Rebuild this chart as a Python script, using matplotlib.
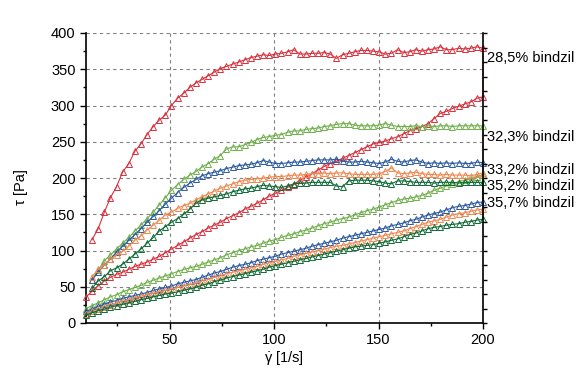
import matplotlib
matplotlib.use("Agg")
import matplotlib.pyplot as plt
from matplotlib.ticker import MultipleLocator, NullFormatter

plt.rcParams['font.family'] = ['Liberation Sans', 'DejaVu Sans']
plt.rcParams['mathtext.fontset'] = 'custom'
plt.rcParams['mathtext.rm'] = 'Liberation Sans'
plt.rcParams['mathtext.it'] = 'Liberation Sans'

# shear rate grid [1/s]
shear_rate = [10.0, 12.9, 15.8, 18.8, 21.7, 24.6, 27.5, 30.5, 33.4, 36.3,
              39.2, 42.2, 45.1, 48.0, 50.9, 53.8, 56.8, 59.7, 62.6, 65.5,
              68.5, 71.4, 74.3, 77.2, 80.2, 83.1, 86.0, 88.9, 91.8, 94.8,
              97.7, 100.6, 103.5, 106.5, 109.4, 112.3, 115.2, 118.2, 121.1, 124.0,
              126.9, 129.8, 132.8, 135.7, 138.6, 141.5, 144.5, 147.4, 150.3, 153.2,
              156.2, 159.1, 162.0, 164.9, 167.8, 170.8, 173.7, 176.6, 179.5, 182.5,
              185.4, 188.3, 191.2, 194.2, 197.1, 200.0]

labels = ["28,5% bindzil", "32,3% bindzil", "33,2% bindzil", "35,2% bindzil", "35,7% bindzil"]
label_y = [365, 257, 211, 189, 165]
colors = ["#d9303c", "#70b04c", "#2c5aa0", "#f0874f", "#0f6a36"]

# ramp-up branch (values at every shear_rate, 10 -> 200)
red_up = [36, 44, 51, 58, 63, 67, 70, 74, 78, 81, 84, 88, 92, 97, 102, 107, 112, 117, 122, 126,
          131, 135, 139, 144, 148, 152, 157, 161, 165, 170, 175, 179, 183, 187, 191, 197, 201, 206, 211, 216,
          220, 223, 227, 231, 235, 239, 243, 247, 249, 251, 254, 257, 261, 265, 268, 271, 275, 282, 289, 292,
          296, 299, 302, 305, 310, 312]
green_up = [20, 24, 28, 32, 36, 39, 43, 46, 49, 52, 56, 59, 62, 65, 68, 71, 74, 76, 78, 81,
            84, 87, 90, 94, 97, 100, 102, 105, 107, 110, 113, 115, 118, 121, 123, 126, 128, 131, 134, 137,
            139, 142, 144, 146, 149, 152, 155, 157, 160, 163, 166, 169, 171, 172, 174, 176, 179, 183, 186, 189,
            192, 195, 197, 199, 202, 204]
blue_up = [16, 19, 23, 26, 29, 31, 34, 36, 38, 40, 42, 45, 47, 49, 51, 54, 56, 58, 60, 63,
           66, 69, 71, 74, 77, 79, 81, 83, 86, 88, 90, 92, 95, 97, 99, 101, 103, 106, 108, 110,
           112, 114, 117, 119, 121, 123, 125, 127, 129, 131, 134, 136, 138, 141, 143, 146, 149, 151, 153, 156,
           159, 161, 162, 164, 166, 167]
orange_up = [13, 16, 19, 22, 25, 28, 30, 32, 35, 37, 39, 41, 43, 45, 47, 49, 51, 53, 55, 58,
             60, 63, 65, 68, 70, 72, 74, 76, 78, 81, 83, 85, 87, 89, 92, 94, 96, 98, 100, 102,
             104, 106, 107, 109, 111, 113, 115, 117, 119, 121, 123, 125, 127, 130, 133, 136, 139, 141, 143, 146,
             149, 151, 152, 154, 156, 157]
dkgreen_up = [11, 14, 17, 19, 22, 24, 26, 28, 30, 32, 34, 36, 38, 40, 41, 43, 45, 47, 49, 52,
              54, 57, 59, 62, 64, 66, 68, 70, 72, 74, 77, 79, 81, 83, 85, 87, 89, 91, 93, 95,
              97, 99, 101, 103, 105, 106, 107, 108, 110, 112, 114, 116, 119, 122, 124, 127, 130, 132, 133, 135,
              136, 137, 139, 140, 142, 143]

# ramp-down branch (values at shear_rate[1:], listed from low to high shear rate)
red_down = [115, 130, 153, 173, 188, 208, 220, 237, 247, 260, 271, 280, 287, 300, 310, 317, 325, 331, 336,
            341, 346, 351, 354, 357, 360, 363, 366, 368, 370, 369, 371, 372, 374, 377, 371, 371, 372, 372, 373,
            371, 365, 370, 372, 374, 376, 376, 375, 374, 371, 372, 377, 373, 374, 377, 375, 377, 378, 381, 377,
            377, 379, 378, 379, 381, 379]
green_down = [60, 73, 86, 94, 102, 110, 118, 127, 135, 144, 153, 163, 173, 183, 191, 198, 204, 209, 215,
              220, 226, 231, 240, 243, 243, 246, 249, 253, 256, 257, 259, 260, 263, 265, 265, 267, 268, 269, 271,
              272, 274, 275, 275, 273, 272, 272, 272, 273, 275, 273, 271, 271, 271, 272, 271, 272, 271, 272, 272,
              271, 272, 272, 272, 272, 272]
blue_down = [59, 70, 80, 88, 98, 106, 114, 122, 130, 139, 147, 155, 164, 172, 180, 187, 193, 198, 203,
             206, 208, 210, 213, 215, 217, 218, 219, 221, 224, 222, 220, 220, 221, 222, 222, 223, 224, 225, 225,
             225, 226, 224, 222, 222, 223, 222, 221, 220, 222, 226, 223, 222, 224, 225, 222, 220, 221, 220, 221,
             220, 221, 220, 220, 222, 221]
orange_down = [64, 74, 80, 88, 94, 99, 106, 114, 120, 128, 135, 142, 149, 153, 158, 162, 165, 170, 174,
               178, 182, 186, 189, 192, 195, 197, 198, 199, 200, 201, 202, 202, 203, 204, 204, 205, 206, 206, 207,
               206, 207, 207, 206, 205, 205, 205, 205, 206, 209, 214, 207, 206, 207, 208, 206, 205, 205, 204, 205,
               204, 204, 204, 203, 205, 207]
dkgreen_down = [48, 58, 64, 72, 76, 81, 88, 95, 102, 110, 118, 127, 133, 139, 144, 150, 157, 165, 170,
                172, 174, 176, 178, 181, 183, 185, 186, 188, 190, 189, 188, 187, 189, 192, 193, 193, 194, 194, 194,
                194, 189, 188, 196, 197, 197, 197, 196, 195, 193, 192, 196, 196, 195, 194, 194, 194, 193, 194, 194,
                194, 193, 194, 194, 194, 194]

ups = [red_up, green_up, blue_up, orange_up, dkgreen_up]
downs = [red_down, green_down, blue_down, orange_down, dkgreen_down]

fig = plt.figure(figsize=(5.81, 3.69), dpi=100)
ax = fig.add_axes([86 / 581, 1 - 323 / 369, (483 - 86) / 581, (323 - 33) / 369])

for up, down, c in zip(ups, downs, colors):
    xs = list(shear_rate) + list(reversed(shear_rate[1:]))
    ys = list(up) + list(reversed(down))
    ax.plot(xs, ys, color=c, lw=0.8, marker='^', ms=4.5, mfc='none', mec=c, mew=0.7,
            clip_on=False, zorder=3)

ax.set_xlim(10, 200)
ax.set_ylim(0, 400)
ax.xaxis.set_major_locator(MultipleLocator(50))
ax.xaxis.set_minor_locator(MultipleLocator(25))
ax.yaxis.set_major_locator(MultipleLocator(50))
ax.yaxis.set_minor_locator(MultipleLocator(25))
ax.set_xticks([50, 100, 150, 200])
ax.grid(True, which='major', color='#808080', ls=(0, (3, 3)), lw=0.8)
ax.set_axisbelow(True)
ax.tick_params(which='major', direction='out', length=4, width=1, labelsize=10.5, colors='black')
ax.tick_params(which='minor', direction='out', length=2.5, width=1)
for s in ['top', 'right']:
    ax.spines[s].set_visible(False)
for s in ['left', 'bottom']:
    ax.spines[s].set_linewidth(1.2)

ax2 = ax.twinx()
ax2.set_ylim(0, 400)
ax2.yaxis.set_major_locator(MultipleLocator(20))
ax2.yaxis.set_major_formatter(NullFormatter())
ax2.tick_params(axis='y', direction='out', length=3, width=1)
for s in ['top', 'left', 'bottom']:
    ax2.spines[s].set_visible(False)
ax2.spines['right'].set_linewidth(1.2)

for lab, yv in zip(labels, label_y):
    ax.text(201.8, yv, lab, fontsize=10.5, va='center', ha='left', clip_on=False)

fig.text(21 / 581, 1 - 187 / 369, 'τ [Pa]', fontsize=10.5, rotation=90, ha='center', va='center')
fig.text(284 / 581, 1 - 358 / 369, r'$\dot{\gamma}$ [1/s]', fontsize=10.5, ha='center', va='center')

fig.savefig('out.png', dpi=100)
